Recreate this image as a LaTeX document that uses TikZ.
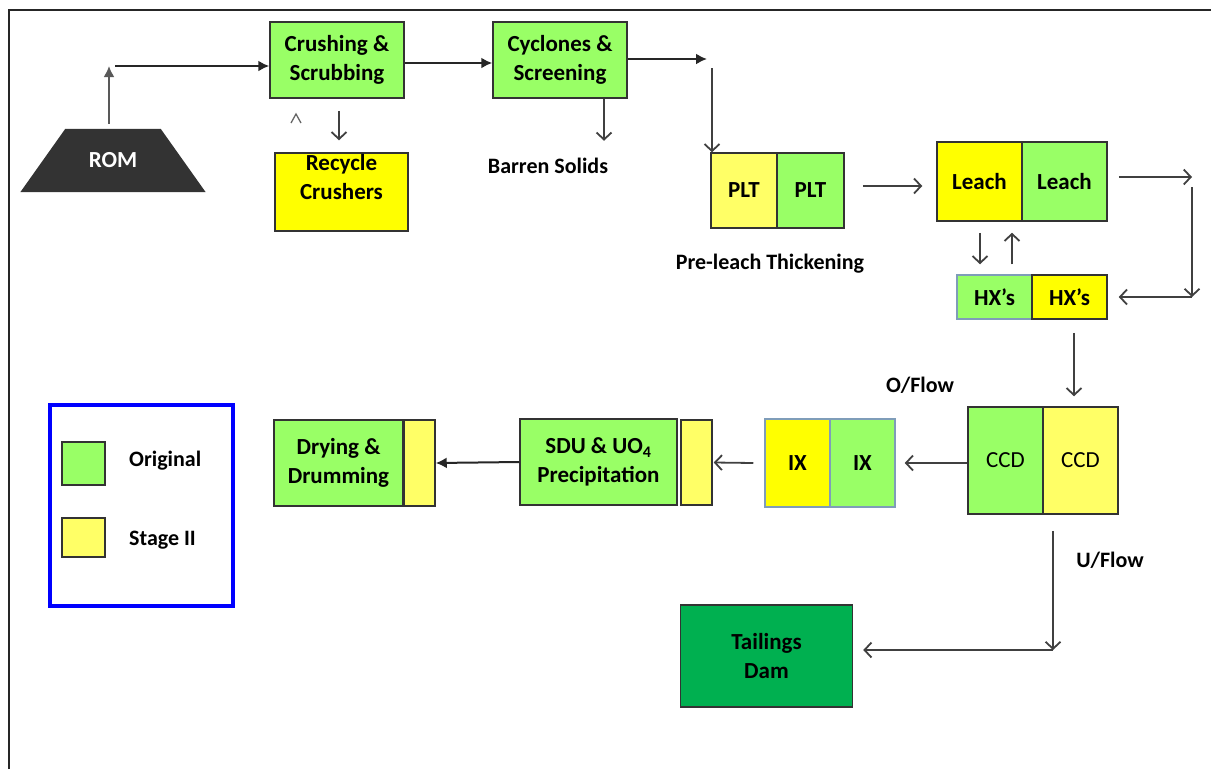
\documentclass[tikz,border=0pt]{standalone}
\usepackage{fontspec}
\setmainfont{Carlito}
\usepackage{xcolor}
\usepackage{tikz}
\usetikzlibrary{arrows.meta,positioning,backgrounds}

\definecolor{origgreen}{HTML}{99FF66}
\definecolor{stageyellow}{HTML}{FFFF66}
\definecolor{brightyellow}{HTML}{FFFF00}
\definecolor{damgreen}{HTML}{00B050}
\definecolor{romgray}{HTML}{333333}
\definecolor{edgegray}{HTML}{7F9DB9}

\begin{document}
\begin{tikzpicture}[
  x=1pt, y=-1pt,
  every node/.style={
    font=\bfseries\fontsize{23}{29}\selectfont,
    align=center,
    inner sep=0pt
  },
  procbox/.style={rectangle, draw=black!80, line width=1.5pt, fill=origgreen},
  newbox/.style={procbox, fill=stageyellow},
  hotbox/.style={procbox, fill=brightyellow},
  note/.style={font=\bfseries\fontsize{22}{26}\selectfont},
  flow/.style={draw=black!85, line width=2pt, -{Latex[length=11pt,width=11pt]}},
  feed/.style={draw=black!75, line width=1.8pt, -{Straight Barb[length=7pt,width=15pt]}}
]
\useasboundingbox (0,0) rectangle (1211,769);
\draw[line width=2.5pt, black!85] (9,769) -- (9,10) -- (1211,10);

\node[minimum width=95pt, minimum height=63pt, text=white] (rom) at (113,160.5) {ROM};
\begin{scope}[on background layer]
\fill[romgray] (rom.north west) -- (rom.north east) -- ([xshift=45pt]rom.south east) -- ([xshift=-45pt]rom.south west) -- cycle;
\end{scope}
\node[procbox, minimum width=134pt, minimum height=76pt] (crush) at (337,60) {Crushing \&\\Scrubbing};
\node[hotbox, minimum width=133pt, minimum height=78pt] (recyc) at (341.5,192) {};
\node (recyctxt) at (341.5,177) {Recycle\\Crushers};
\node[procbox, minimum width=134pt, minimum height=76pt] (cyc) at (560,60) {Cyclones \&\\Screening};
\node[note] (barren) at (548,166) {Barren Solids};
\node[newbox, minimum width=66pt, minimum height=75pt] (plta) at (744,190.5) {PLT};
\node[procbox, minimum width=67pt, minimum height=75pt] (pltb) at (810.5,190.5) {PLT};
\node[note] (plttag) at (770,264) {Pre-leach Thickening};
\node[hotbox, minimum width=85pt, minimum height=79pt] (leacha) at (979.5,181.5) {Leach};
\node[procbox, minimum width=85pt, minimum height=79pt] (leachb) at (1064.5,181.5) {Leach};
\node[procbox, draw=edgegray, minimum width=75pt, minimum height=44pt] (hxa) at (994.5,297) {HX’s};
\node[hotbox, minimum width=75pt, minimum height=44pt] (hxb) at (1069.5,297) {HX’s};
\node[note] (oflow) at (920,385) {O/Flow};
\node[procbox, minimum width=75pt, minimum height=107pt] (ccda) at (1005.5,460.5) {\mdseries CCD};
\node[newbox, minimum width=75pt, minimum height=107pt] (ccdb) at (1080.5,460.5) {\mdseries CCD};
\node[note] (uflow) at (1110,560) {U/Flow};
\node[hotbox, draw=edgegray, minimum width=65pt, minimum height=88pt] (ixa) at (797.5,463) {IX};
\node[procbox, draw=edgegray, minimum width=65pt, minimum height=88pt] (ixb) at (862.5,463) {IX};
\node[procbox, minimum width=157pt, minimum height=86pt] (sdu) at (598.5,462) {SDU \& UO\textsubscript{4}\\Precipitation};
\node[newbox, minimum width=31pt, minimum height=85pt] (sdutail) at (696.5,462.5) {};
\node[procbox, minimum width=129pt, minimum height=86pt] (dry) at (338.5,463) {Drying \&\\Drumming};
\node[newbox, minimum width=31pt, minimum height=86pt] (drytail) at (419.5,463) {};
\node[procbox, fill=damgreen, minimum width=172pt, minimum height=102pt] (dam) at (766.5,656) {Tailings\\Dam};

\node[draw=blue, line width=4.5pt, minimum width=183pt, minimum height=201pt] (legend) at (141.5,505.5) {};
\node[procbox, minimum width=43pt, minimum height=43pt] (keyorig) at (83.5,463.5) {};
\node[newbox, minimum width=43pt, minimum height=39pt] (keynew) at (83.5,537.5) {};
\node[note, anchor=west] (keyorigtxt) at (129,461) {Original};
\node[note, anchor=west] (keynewtxt) at (129,540) {Stage II};

\coordinate (romtop) at (109,66);
\draw[flow, draw=black!65] ([xshift=-4pt,yshift=5pt]rom.north) -- (romtop);
\draw[flow] ([xshift=6pt]romtop) -- (romtop -| crush.west);
\draw[flow] ([yshift=-3pt]crush.east) -- ([yshift=-3pt]cyc.west);
\coordinate (cycout) at (707,59);
\draw[flow] ([yshift=1pt]cyc.east) -- (cycout);
\coordinate (pltin) at (712,68);
\draw[feed] (pltin) -- (pltin |- plta.north);
\draw[line width=1.3pt, black!60] (291,123) -- (296,114) -- (301,123);
\draw[feed] ([xshift=2pt,yshift=-12pt]crush.south) -- ([xshift=-2.5pt,yshift=12pt]recyc.north);
\draw[feed] ([xshift=44pt]cyc.south) -- ++(0,42);
\draw[feed] ([xshift=18pt,yshift=4.5pt]pltb.east) -- ([xshift=-14pt,yshift=-4.5pt]leacha.west);
\coordinate (loopturn) at (1192,177);
\draw[feed] ([xshift=11pt,yshift=4.5pt]leachb.east) -- (loopturn);
\draw[feed] ([yshift=-10pt]loopturn) -- (loopturn |- hxb.east);
\draw[feed] (loopturn |- hxb.east) -- ([xshift=11pt]hxb.east);
\draw[feed] ([xshift=0.5pt,yshift=-11pt]leacha.south) -- ([xshift=-14.5pt,yshift=10pt]hxa.north);
\draw[feed] ([xshift=17.5pt,yshift=10pt]hxa.north) -- ([xshift=32.5pt,yshift=-11pt]leacha.south);
\draw[feed] ([xshift=4.5pt,yshift=-13pt]hxb.south) -- ([xshift=-6.5pt,yshift=10pt]ccdb.north);
\draw[feed] ([yshift=-2.5pt]ccda.west) -- ([xshift=9pt]ixb.east);
\draw[feed] ([xshift=-11pt]ixa.west) -- ([xshift=1pt]sdutail.east);
\draw[flow] (sdu.west) -- (drytail.east);
\coordinate (damturn) at (1053,650);
\draw[feed] ([xshift=-27.5pt,yshift=-16pt]ccdb.south) -- (damturn);
\draw[feed] (damturn) -- ([xshift=10pt,yshift=6pt]dam.east);
\end{tikzpicture}
\end{document}
